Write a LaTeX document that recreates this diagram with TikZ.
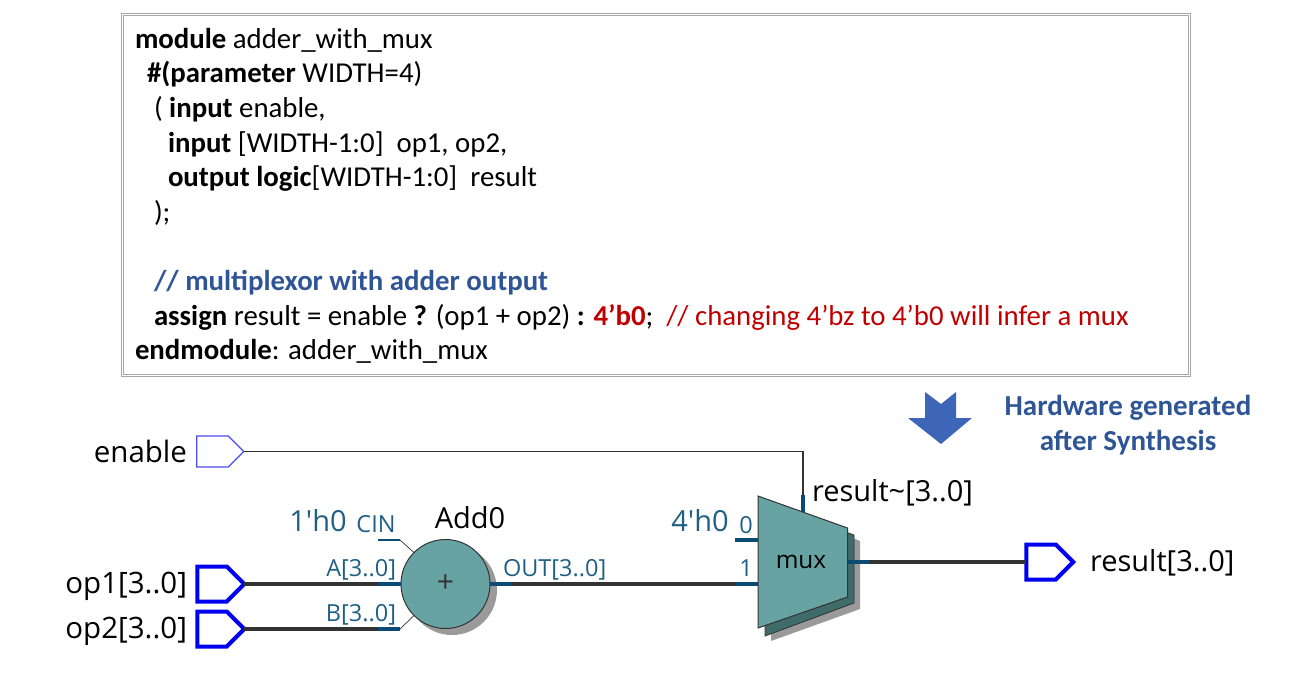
\documentclass[tikz,border=0pt]{standalone}
\usepackage{fontspec}
\setmainfont{Carlito}
\newfontfamily\labelfont{Open Sans}
\usepackage{xcolor}
\usetikzlibrary{
    positioning,
    shapes.symbols,
    calc
}
\definecolor{tealfill}{HTML}{68A3A3}
\definecolor{tealdark}{HTML}{3F6B6A}
\definecolor{shadowgray}{HTML}{9A9A9A}
\definecolor{stubblue}{HTML}{0B4A72}
\definecolor{wiregray}{HTML}{333333}
\definecolor{portblue}{HTML}{0000F0}
\definecolor{labelblue}{HTML}{1F5F85}
\definecolor{titleblue}{HTML}{2F5597}
\definecolor{codered}{HTML}{C00000}
\definecolor{arrowblue}{HTML}{3D66B8}

\begin{document}
\begin{tikzpicture}[
    x=1pt, y=-1pt,
    every node/.style={inner sep=0pt, outer sep=0pt},
    code/.style={font=\fontsize{28.8}{34.6}\selectfont, align=left, anchor=north west},
    port/.style={signal, signal to=east, signal pointer angle=90, draw=portblue, fill=white, minimum width=47pt, minimum height=35pt, line width=4pt},
    thinport/.style={port, line width=1.3pt, draw=portblue!70!white, minimum width=47pt, minimum height=31pt},
    bus/.style={wiregray, line width=4pt},
    stub/.style={stubblue, line width=4pt},
    thinwire/.style={wiregray, line width=1.1pt},
    portlabel/.style={font=\labelfont\fontsize{29.5}{32}\selectfont, text=black, anchor=east},
    blocklabel/.style={font=\labelfont\fontsize{29}{32}\selectfont, text=black},
    pinlabel/.style={font=\labelfont\fontsize{23.5}{26}\selectfont, text=labelblue},
    constlabel/.style={font=\labelfont\fontsize{29}{32}\selectfont, text=labelblue},
    note/.style={font=\bfseries\fontsize{29}{35}\selectfont, text=titleblue, align=center}
]
\useasboundingbox (0,0) rectangle (1314,674);

% code box
\node[draw=gray!70, line width=1pt, minimum width=1067pt, minimum height=361pt, anchor=north west, double=white, double distance=1.2pt] (codebox) at (122.5,14.5) {};
\node[code] (codetext) at (135,28) {%
\textbf{module} adder\_with\_mux\\
\hspace*{12pt}\textbf{\#(parameter} WIDTH=4)\\
\hspace*{19pt}( \textbf{input} enable,\\
\hspace*{33pt}\textbf{input} [WIDTH-1:0]\ \ op1, op2,\\
\hspace*{33pt}\textbf{output logic}[WIDTH-1:0]\ \ result\\
\hspace*{19pt});\\
\mbox{}\\
\hspace*{19pt}\textcolor{titleblue}{\textbf{// multiplexor with adder output}}\\
\hspace*{19pt}\textbf{assign} result = enable \textbf{?} (op1 + op2) \textbf{:} \textcolor{codered}{\textbf{4’b0}};\ \ \textcolor{codered}{// changing 4’bz to 4’b0 will infer a mux}\\
\textbf{endmodule}: adder\_with\_mux};

% arrow and note
\fill[arrowblue] (925,392) -- (941,404) -- (956,392) -- (956,418) -- (972,418) -- (941,444) -- (908,418) -- (925,418) -- cycle;
\node[note] (hwnote) at (1128,425) {Hardware generated\\after Synthesis};

% ports
\node[thinport] (enable) at (212.5,451.5) {};
\node[port] (op1) at (212,584) {};
\node[port] (op2) at (212,629) {};
\node[port] (result) at (1041,562) {};
\node[portlabel] (enablelabel) at (187,451) {enable};
\node[portlabel] (op1label) at (187,586) {op1[3..0]};
\node[portlabel] (op2label) at (187,631) {op2[3..0]};
\node[blocklabel, anchor=west] (resultlabel) at (1090,563) {result[3..0]};

% adder
\fill[shadowgray] (452,590) circle (45);
\node[circle, draw=wiregray, fill=tealfill, line width=1pt, minimum size=89pt] (add) at (445.5,584) {};
\node[font=\labelfont\fontsize{30}{32}\selectfont, text=wiregray] (plus) at (add.center) {+};
\node[blocklabel] (addname) at (470,518) {Add0};
\coordinate (cinend) at (378,540);
\coordinate (cinbend) at (400,540);
\coordinate (aend) at (378,584);
\coordinate (bend) at (378,629);
\coordinate (bpin) at (400,629);
\coordinate (outend) at (512,584);
\node[constlabel] (cinval) at (318,521) {1'h0};
\node[pinlabel] (cin) at (376,524) {CIN};
\node[pinlabel, anchor=south east] (apin) at (396,580) {A[3..0]};
\node[pinlabel, anchor=south east] (bpinlabel) at (396,625) {B[3..0]};
\node[pinlabel, anchor=south west] (outlabel) at (503,580) {OUT[3..0]};

% mux
\fill[shadowgray] (771,505) -- (860,541) -- (860,609) -- (771,641) -- cycle;
\fill[tealdark, draw=wiregray, line width=.8pt] (765,503) -- (854,535) -- (854,603) -- (765,636) -- cycle;
\filldraw[fill=tealfill, draw=wiregray, line width=1pt] (758,496) coordinate (muxtl) -- (847.5,528) coordinate (muxtr) -- (847.5,597) coordinate (muxbr) -- (758,628) coordinate (muxbl) -- cycle;
\node[font=\labelfont\fontsize{24.4}{28}\selectfont, text=black] (mux) at (801,562) {mux};
\coordinate (zeroin) at (758,540);
\coordinate (zeroend) at (735,540);
\coordinate (onein) at (758,584);
\coordinate (oneend) at (736,584);
\coordinate (selin) at (803,512);
\coordinate (selend) at (803,495);
\coordinate (muxout) at (848,562);
\coordinate (muxoutend) at (869,562);
\node[blocklabel, anchor=west] (sumname) at (812,493) {result\textasciitilde[3..0]};
\node[constlabel] (zeroval) at (700,521) {4'h0};
\node[pinlabel] (zeropin) at (746,525) {0};
\node[pinlabel] (onepin) at (746,568) {1};

% wires
\draw[thinwire] (enable.east) -| (selend);
\draw[stub] (selend) -- (selin);
\draw[bus] (op1.east) -- (aend);
\draw[stub] (aend) -- (add.west);
\draw[bus] (op2.east) -- (bend);
\draw[stub] (bend) -- (bpin);
\draw[thinwire, line width=.7pt] (bpin) -- (add.225);
\draw[stub, line width=1.1pt] (cinend) -- (cinbend);
\draw[thinwire, line width=.7pt] (cinbend) -- (add.135);
\draw[stub] (add.east) -- (outend);
\draw[bus] (outend) -- (oneend);
\draw[stub] (oneend) -- (onein);
\draw[stub] (zeroend) -- (zeroin);
\draw[stub] (muxout) -- (muxoutend);
\draw[bus] (muxoutend) -- (result.west);

\end{tikzpicture}
\end{document}
